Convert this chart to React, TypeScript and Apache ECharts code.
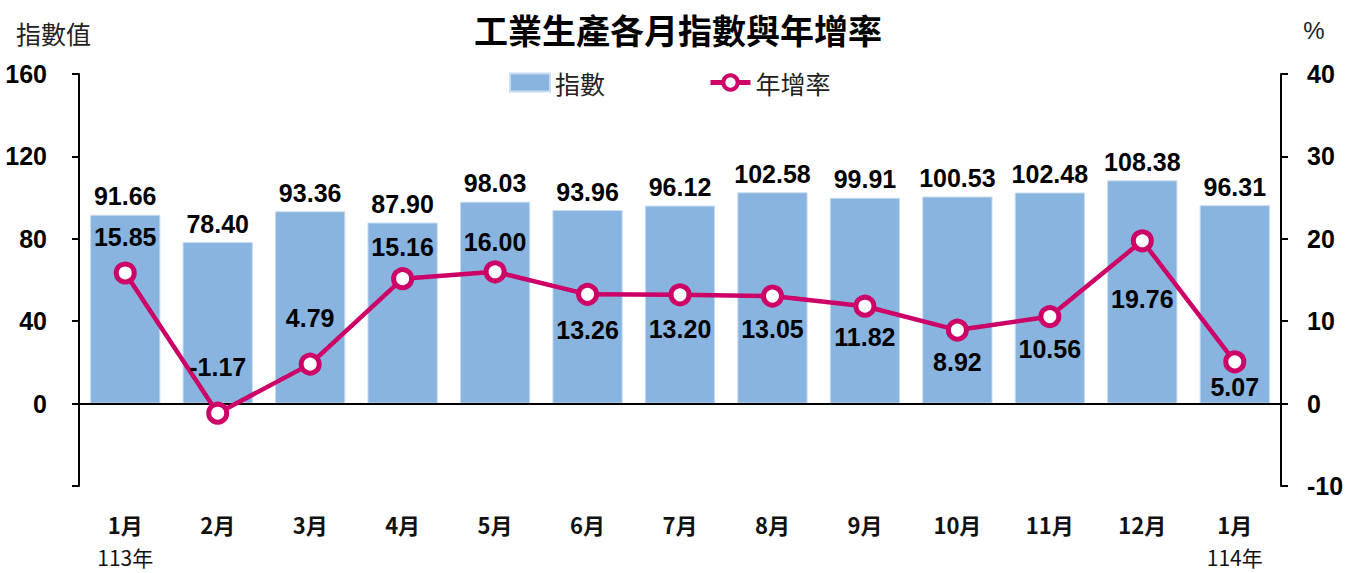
import React, { useEffect, useRef } from "react";
import * as echarts from "echarts";

const months = ["1月", "2月", "3月", "4月", "5月", "6月", "7月", "8月", "9月", "10月", "11月", "12月", "1月"];
const yearTags = ["113年", "", "", "", "", "", "", "", "", "", "", "", "114年"];
const indexValues = [91.66, 78.4, 93.36, 87.9, 98.03, 93.96, 96.12, 102.58, 99.91, 100.53, 102.48, 108.38, 96.31];
const rateValues = [15.85, -1.17, 4.79, 15.16, 16.0, 13.26, 13.2, 13.05, 11.82, 8.92, 10.56, 19.76, 5.07];
const leftTicks = { min: -40, max: 160, interval: 40 };
const rightTicks = { min: -10, max: 40, interval: 10 };

// label styling: vertical offsets of the rate labels relative to their markers
const rateLabelDy = [-36, -46, -46, -32, -30, 36, 34, 33, 31, 32, 32, 58, 25];

const NUM_FONT = "'Liberation Sans Narrow', 'Arial Narrow', 'Liberation Sans', sans-serif";
const CJK_FONT = "'Noto Sans CJK TC', 'Noto Sans CJK SC', sans-serif";
const BAR_COLOR = "#88B4DF";
const LINE_COLOR = "#CC0066";

export default function App() {
  const ref = useRef<HTMLDivElement>(null);
  useEffect(() => {
    if (!ref.current) return;
    const chart = echarts.init(ref.current, null, { renderer: "svg" });
    chart.setOption({
      animation: false,
      backgroundColor: "#fff",
      grid: { left: 79, right: 71, top: 74, bottom: 87, containLabel: false },
      graphic: [
        {
          type: "text",
          x: 678,
          y: 29,
          style: {
            text: "工業生產各月指數與年增率",
            font: `bold 34px ${CJK_FONT}`,
            fill: "#000",
            textAlign: "center",
            textVerticalAlign: "middle",
          },
        },
        {
          type: "text",
          x: 16,
          y: 33,
          style: {
            text: "指數值",
            font: `25px ${CJK_FONT}`,
            fill: "#222",
            textAlign: "left",
            textVerticalAlign: "middle",
          },
        },
        {
          type: "text",
          x: 1314,
          y: 30,
          style: {
            text: "%",
            font: `24px 'Liberation Sans', sans-serif`,
            fill: "#222",
            textAlign: "center",
            textVerticalAlign: "middle",
          },
        },
      ],
      legend: {
        left: 509,
        top: 70,
        padding: 0,
        itemWidth: 40,
        itemHeight: 18,
        itemGap: 103,
        textStyle: { fontFamily: CJK_FONT, fontSize: 25, color: "#222" },
        data: [
          { name: "指數", icon: "rect" },
          {
            name: "年增率",
            lineStyle: { width: 5, color: LINE_COLOR },
            itemStyle: { color: "#fff", borderColor: LINE_COLOR, borderWidth: 4 },
          },
        ],
      },
      xAxis: {
        type: "category",
        data: months,
        axisLine: { show: false },
        axisTick: { show: false },
        axisLabel: {
          interval: 0,
          margin: 19,
          formatter: (value: string, index: number) =>
            yearTags[index] ? `{m|${value}}\n{y|${yearTags[index]}}` : `{m|${value}}`,
          rich: {
            m: { fontFamily: CJK_FONT, fontSize: 22, fontWeight: "bold", color: "#111", lineHeight: 38 },
            y: { fontFamily: CJK_FONT, fontSize: 21, color: "#111", lineHeight: 28 },
          },
        },
      },
      yAxis: [
        {
          type: "value",
          position: "left",
          min: leftTicks.min,
          max: leftTicks.max,
          interval: leftTicks.interval,
          splitLine: { show: false },
          axisLine: { show: true, lineStyle: { color: "#000", width: 2 } },
          axisTick: { show: true, length: 7, lineStyle: { color: "#000", width: 2 } },
          axisLabel: {
            margin: 32,
            fontFamily: NUM_FONT,
            fontSize: 25,
            fontWeight: "bold",
            color: "#000",
            formatter: (v: number) => (v === leftTicks.min ? "" : String(v)),
          },
        },
        {
          type: "value",
          position: "right",
          min: rightTicks.min,
          max: rightTicks.max,
          interval: rightTicks.interval,
          splitLine: { show: false },
          axisLine: { show: true, lineStyle: { color: "#000", width: 2 } },
          axisTick: { show: true, length: 7, lineStyle: { color: "#000", width: 2 } },
          axisLabel: {
            margin: 26,
            fontFamily: NUM_FONT,
            fontSize: 25,
            fontWeight: "bold",
            color: "#000",
          },
        },
      ],
      series: [
        {
          name: "指數",
          type: "bar",
          yAxisIndex: 0,
          data: indexValues,
          barCategoryGap: "24%",
          itemStyle: { color: BAR_COLOR, borderColor: "#C8DCF1", borderWidth: 1 },
          label: {
            show: true,
            position: "top",
            distance: 6,
            fontFamily: NUM_FONT,
            fontSize: 25,
            fontWeight: "bold",
            color: "#000",
            formatter: (p: any) => Number(p.value).toFixed(2),
          },
          markLine: {
            silent: true,
            symbol: "none",
            label: { show: false },
            lineStyle: { color: "#000", width: 2, type: "solid" },
            data: [{ yAxis: 0 }],
          },
          z: 2,
        },
        {
          name: "年增率",
          type: "line",
          yAxisIndex: 1,
          data: rateValues.map((v, i) => ({
            value: v,
            label: { offset: [0, rateLabelDy[i]] },
          })),
          symbol: "circle",
          symbolSize: 18,
          lineStyle: { color: LINE_COLOR, width: 4.5 },
          itemStyle: { color: "#fff", borderColor: LINE_COLOR, borderWidth: 5 },
          label: {
            show: true,
            position: "inside",
            fontFamily: NUM_FONT,
            fontSize: 25,
            fontWeight: "bold",
            color: "#000",
            formatter: (p: any) => Number(p.value).toFixed(2),
          },
          z: 5,
        },
      ],
    });
    return () => chart.dispose();
  }, []);
  return <div ref={ref} style={{ position: "fixed", left: 0, top: 0, width: 1352, height: 573 }} />;
}
